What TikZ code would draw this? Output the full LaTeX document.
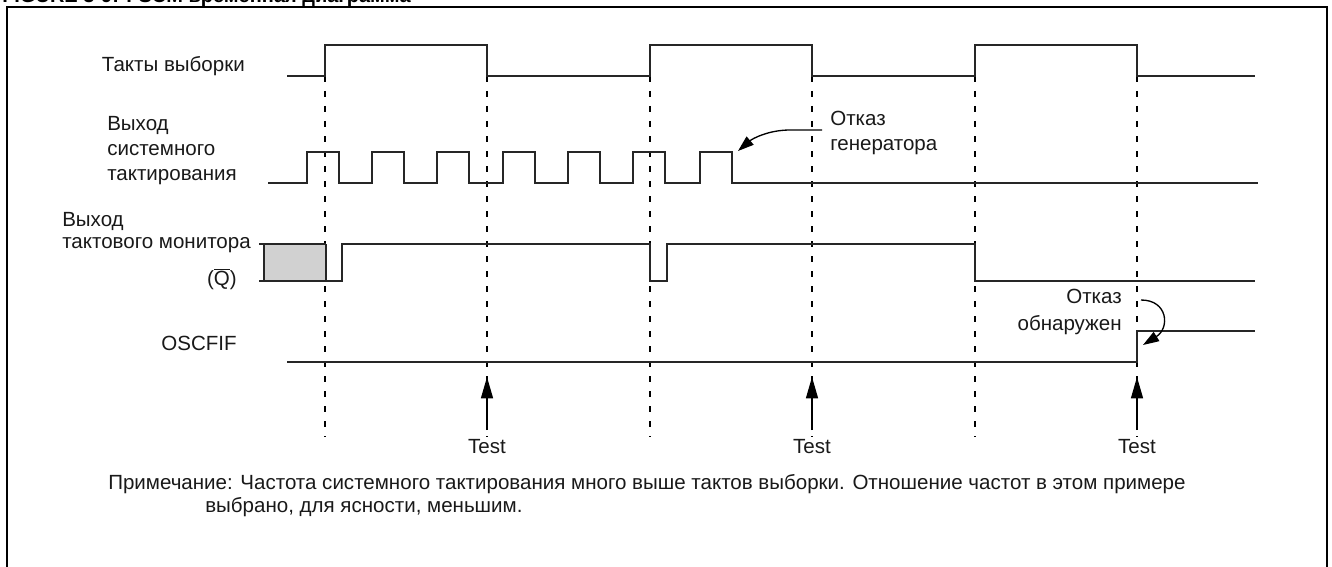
\documentclass[tikz,border=0pt]{standalone}
\usepackage{fontspec}
\setmainfont{Liberation Sans}
\usetikzlibrary{arrows.meta}
\begin{document}
\begin{tikzpicture}[x=0.75pt,y=-0.75pt,
  sig/.style={line width=1.1pt, draw=black!85, line join=miter},
  gridline/.style={line width=1pt, draw=black, dash pattern=on 4.5pt off 6.75pt},
  lbl/.style={inner sep=0pt, font=\fontsize{15.4}{18}\selectfont, text=black!90},
  testarrow/.style={line width=1pt, -{Triangle[length=16pt,width=9pt]}},
  callout/.style={line width=1pt, -{Triangle[length=12pt,width=8pt]}},
  hatch/.style={fill=black!18}
]
\useasboundingbox (0,0) rectangle (1332,567);

% caption (mostly above the page) and frame
\node[inner sep=0pt, anchor=base west, font=\bfseries\fontsize{15}{18}\selectfont] (title) at (2,3) {FIGURE 3-9: FSCM временная диаграмма};
\draw[line width=1.5pt] (7,575) -- (7,7) -- (1327,7) -- (1327,575);

% sampling instants
\foreach \x in {325,487,650,812,975,1137}
  \draw[gridline] (\x,46) -- (\x,437);

% sample clock
\draw[sig] (287,76) -- (325,76) -- (325,45) -- (487,45) -- (487,76) -- (650,76)
  -- (650,45) -- (812,45) -- (812,76) -- (975,76) -- (975,45) -- (1137,45)
  -- (1137,76) -- (1255,76);

% system clock, stops after the last pulse
\draw[sig] (268,183) foreach \r in {307,372,437,503,568,633,700}
  { -- (\r,183) -- (\r,152) -- (\r+32,152) -- (\r+32,183) } -- (1258,183);

% clock monitor output
\fill[hatch] (264,244) rectangle (326,281);
\draw[sig] (259,244) -- (326,244);
\draw[sig] (264,244) -- (264,281);
\draw[sig] (326,244) -- (326,281);
\draw[sig] (259,281) -- (342,281) -- (342,244) -- (650,244) -- (650,281)
  -- (667,281) -- (667,244) -- (975,244) -- (975,281) -- (1255,281);

% OSCFIF
\draw[sig] (287,362) -- (1137,362) -- (1137,331) -- (1255,331);

% signal names
\node[lbl, anchor=base east] (nsample) at (245,72) {Такты выборки};
\node[lbl, anchor=base west] (nsys1) at (107,130) {Выход};
\node[lbl, anchor=base west] (nsys2) at (107,155) {системного};
\node[lbl, anchor=base west] (nsys3) at (107,180) {тактирования};
\node[lbl, anchor=base west] (nmon1) at (62,226) {Выход};
\node[lbl, anchor=base west] (nmon2) at (62,248) {тактового монитора};
\node[lbl, anchor=base east] (nq) at (237,285) {($\overline{\hbox{Q}}$)};
\node[lbl, anchor=base east] (nosc) at (237,350) {OSCFIF};

% test markers
\foreach \x/\n in {487/1,812/2,1137/3} {
  \node[lbl, anchor=base] (test\n) at (\x,453) {Test};
  \coordinate (ts\n) at (\x,430);
  \coordinate (th\n) at (\x,377);
  \draw[testarrow] (ts\n) -- (th\n);
}

% oscillator failure callout
\node[lbl, anchor=base west] (fail1) at (830,125) {Отказ};
\node[lbl, anchor=base west] (fail2) at (830,150) {генератора};
\coordinate (fs) at (822,130);
\coordinate (ft) at (738,151);
\draw[callout] (fs) -- (790,130) .. controls (768,130) and (752,139) .. (ft);

% failure detected callout
\node[lbl, anchor=base east] (det1) at (1122,303) {Отказ};
\node[lbl, anchor=base east] (det2) at (1122,330) {обнаружен};
\coordinate (ds) at (1141,300);
\coordinate (dt) at (1143,345);
\draw[callout] (ds) .. controls (1168,300) and (1170,328) .. (dt);

% note
\node[lbl, anchor=base west] (note1) at (108,489) {Примечание: Частота системного тактирования много выше тактов выборки. Отношение частот в этом примере};
\node[lbl, anchor=base west] (note2) at (205,512) {выбрано, для ясности, меньшим.};
\end{tikzpicture}
\end{document}
